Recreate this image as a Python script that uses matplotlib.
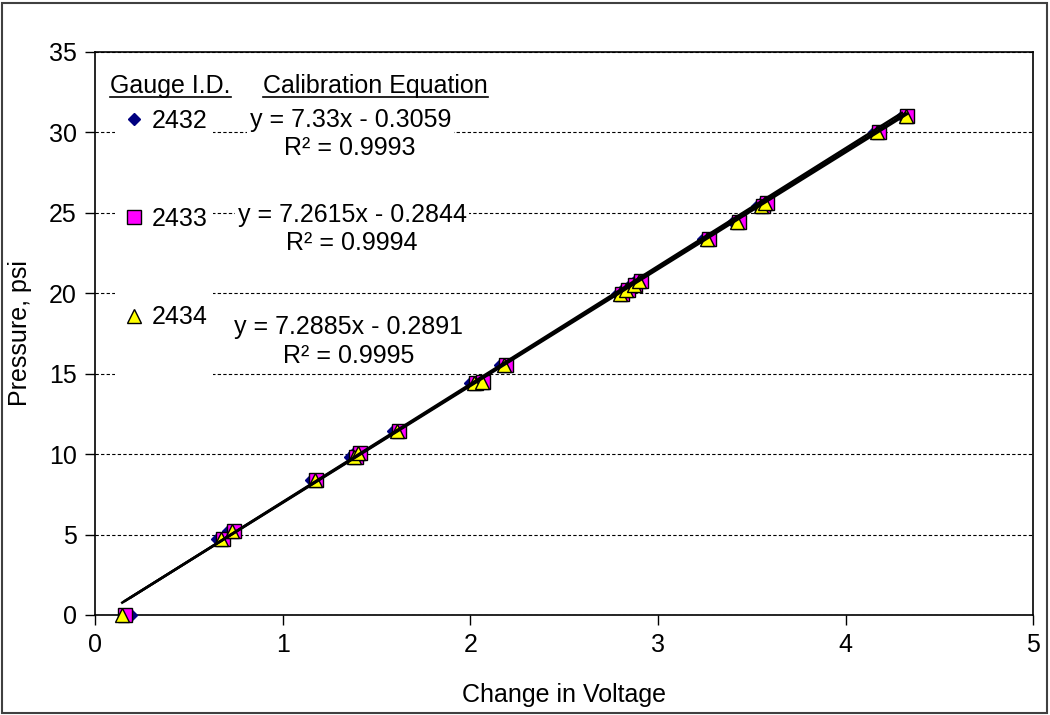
import numpy as np
import matplotlib
matplotlib.use('Agg')
import matplotlib.pyplot as plt
from matplotlib.lines import Line2D
from matplotlib.patches import Rectangle

plt.rcParams['font.family'] = ['Liberation Sans', 'DejaVu Sans']

# applied pressure (psi) and voltage change for each gauge
pressure = [0.0, 4.7, 5.25, 8.4, 9.85, 10.05, 11.45, 14.4, 14.5, 15.55,
            19.95, 20.2, 20.5, 20.75, 23.35, 24.45, 25.4, 25.6, 30.0, 31.0]
volt_2432 = [0.19, 0.65, 0.71, 1.15, 1.36, 1.38, 1.59, 2.00, 2.04, 2.16,
             2.78, 2.81, 2.85, 2.88, 3.24, 3.40, 3.53, 3.55, 4.15, 4.30]
volt_2433 = [0.16, 0.68, 0.74, 1.18, 1.39, 1.41, 1.62, 2.03, 2.07, 2.19,
             2.81, 2.84, 2.88, 2.91, 3.27, 3.43, 3.56, 3.58, 4.18, 4.33]
volt_2434 = [0.145, 0.67, 0.73, 1.17, 1.38, 1.40, 1.61, 2.02, 2.06, 2.18,
             2.80, 2.83, 2.87, 2.90, 3.26, 3.42, 3.55, 3.57, 4.17, 4.32]

gauges = ['2432', '2433', '2434']
slopes = [7.33, 7.2615, 7.2885]
intercepts = [-0.3059, -0.2844, -0.2891]
r2 = [0.9993, 0.9994, 0.9995]

FS = 18

fig = plt.figure(figsize=(10.5, 7.15), dpi=100)
ax = fig.add_axes([0.0905, 0.1399, 0.8935, 0.7874])

# outer chart border
fig.patches.append(Rectangle((0.002, 0.003), 0.995, 0.993, transform=fig.transFigure,
                             fill=False, edgecolor='#404040', linewidth=1.5))

ax.plot(volt_2432, pressure, 'D', color='#000080', markersize=6.5,
        markeredgecolor='#000080', zorder=3, clip_on=False)
ax.plot(volt_2433, pressure, 's', color='#FF00FF', markersize=10.5,
        markeredgecolor='black', markeredgewidth=1.0, zorder=4, clip_on=False)
ax.plot(volt_2434, pressure, '^', color='#FFFF00', markersize=10.5,
        markeredgecolor='black', markeredgewidth=1.0, zorder=5, clip_on=False)

# linear trendlines from the calibration equations
for v, m, b in zip([volt_2432, volt_2433, volt_2434], slopes, intercepts):
    xx = np.array([min(v), max(v)])
    ax.plot(xx, m * xx + b, color='black', linewidth=1.8, zorder=6)

ax.set_xlim(0, 5)
ax.set_ylim(0, 35)
ax.set_xticks(range(0, 6))
ax.set_yticks(range(0, 36, 5))
ax.tick_params(direction='out', length=7, width=1, labelsize=FS, pad=6)
ax.yaxis.grid(True, color='black', linestyle=(0, (3, 2)), linewidth=0.8)
ax.set_axisbelow(True)
for s in ax.spines.values():
    s.set_linewidth(1.2)

ax.set_xlabel('Change in Voltage', fontsize=FS, labelpad=19)
ax.set_ylabel('Pressure, psi', fontsize=FS, labelpad=12)

# white backing behind the gauge list
ax.add_patch(Rectangle((0.107, 14.6), 0.52, 17.0, facecolor='white',
                       edgecolor='none', zorder=1.5))

handles = [
    Line2D([], [], marker='D', linestyle='none', color='#000080', markersize=6.5),
    Line2D([], [], marker='s', linestyle='none', color='#FF00FF', markersize=10.5,
           markeredgecolor='black'),
    Line2D([], [], marker='^', linestyle='none', color='#FFFF00', markersize=10.5,
           markeredgecolor='black'),
]
leg = ax.legend(handles, gauges, loc='upper left', bbox_to_anchor=(0.028, 0.899),
                frameon=False, fontsize=FS, labelspacing=2.97, handlelength=1.0,
                handletextpad=0.2, borderpad=0, borderaxespad=0)

eq_pos = [(1.36, 29.9), (1.37, 24.0), (1.35, 17.0)]
for (x, y), m, b, r in zip(eq_pos, slopes, intercepts, r2):
    ax.text(x, y, 'y = %gx - %g\nR² = %g' % (m, -b, r), fontsize=FS,
            ha='center', va='center', linespacing=1.25, zorder=7,
            bbox=dict(facecolor='white', edgecolor='none', pad=2))

headers = [ax.text(0.08, 32.44, 'Gauge I.D.', fontsize=FS, va='baseline'),
           ax.text(0.895, 32.44, 'Calibration Equation', fontsize=FS, va='baseline')]

# underline the column headers
fig.canvas.draw()
inv = ax.transData.inverted()
for t in headers:
    bb = t.get_window_extent()
    (x0, y0), (x1, _) = inv.transform([(bb.x0, bb.y0 + 1), (bb.x1, bb.y0 + 1)])
    ax.plot([x0, x1], [y0, y0], color='black', linewidth=1.2, clip_on=False)

fig.savefig('out.png', dpi=100)
